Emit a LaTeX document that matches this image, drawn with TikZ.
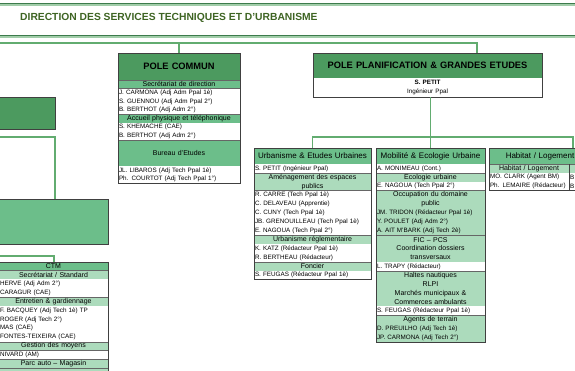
\documentclass[tikz,border=0pt]{standalone}
\usepackage{fontspec}
\setmainfont{Liberation Sans}
\usetikzlibrary{positioning}

\definecolor{poledark}{RGB}{76,154,95}
\definecolor{polemid}{RGB}{108,190,138}
\definecolor{polelight}{RGB}{172,219,188}
\definecolor{linkgreen}{RGB}{98,172,112}
\definecolor{titlegreen}{RGB}{62,100,35}

\newcommand\dirfont{\bfseries\fontsize{10.3}{12}\selectfont}
\newcommand\hdrfont{\bfseries\fontsize{9.3}{11}\selectfont}
\newcommand\subfont{\fontsize{8}{8.9}\selectfont}
\newcommand\bandfont{\fontsize{7}{8.9}\selectfont}
\newcommand\rowfont{\fontsize{6.3}{8.9}\selectfont}

\begin{document}
\begin{tikzpicture}[x=1pt,y=-1pt,line join=miter]
  \tikzset{
    cellbase/.style={inner xsep=1pt,inner ysep=0pt,outer sep=0pt,minimum height=\rh},
    polehead/.style={cellbase,fill=poledark,draw=black!75,font=\hdrfont,align=center},
    subhead/.style={cellbase,fill=polemid,draw=black!75,font=\subfont,align=center},
    band/.style={cellbase,fill=polelight,draw=black!60,font=\bandfont,align=center},
    midband/.style={band,fill=polemid},
    agent/.style={cellbase,fill=white,font=\rowfont,align=left},
    lagent/.style={agent,fill=polelight},
    boxline/.style={draw=black!75,line width=0.6pt},
    link/.style={draw=linkgreen,line width=1.3pt},
  }
  \def\rh{8.9}
  \useasboundingbox (0,0) rectangle (575,371);
  \clip (0,0) rectangle (575,371);

  % titre
  \draw[draw=linkgreen!60,line width=1.6pt] (-5,5) -- (580,5) (-5,37) -- (580,37);
  \draw[draw=poledark!80!black,line width=0.8pt] (-5,3) -- (580,3) (-5,35) -- (580,35);
  \node[font=\dirfont,text=titlegreen,anchor=west,inner sep=0pt] (dir) at (20,18) {DIRECTION DES SERVICES TECHNIQUES ET D'URBANISME};

  % pole commun
  \begin{scope}[nodes={text width=120pt}]
    \def\rh{8.6}
    \node[polehead,anchor=north west,minimum height=27] (pc) at (118,53) {POLE COMMUN};
    \node[midband,below=0pt of pc] (pc1) {Secrétariat de direction};
    \node[agent,below=0pt of pc1] (pc2) {J. CARMONA (Adj Adm Ppal 1è)};
    \node[agent,below=0pt of pc2] (pc3) {S. GUENNOU (Adj Adm Ppal 2°)};
    \node[agent,below=0pt of pc3] (pc4) {B. BERTHOT (Adj Adm 2°)};
    \node[midband,below=0pt of pc4] (pc5) {Accueil physique et téléphonique};
    \node[agent,below=0pt of pc5] (pc6) {S. KHEMACHE (CAE)};
    \node[agent,below=0pt of pc6] (pc7) {B. BERTHOT (Adj Adm 2°)};
    \node[midband,below=0pt of pc7,minimum height=26] (pc8) {Bureau d'Etudes};
    \node[agent,below=0pt of pc8] (pc9) {JL. LIBAROS (Adj Tech Ppal 1è)};
    \node[agent,below=0pt of pc9] (pc10) {Ph. COURTOT (Adj Tech Ppal 1°)};
    \draw[boxline] (pc.north west) rectangle (pc10.south east);
  \end{scope}

  % pole planification
  \node[polehead,anchor=north west,minimum height=25,text width=227pt] (ppg) at (313,53) {POLE PLANIFICATION \& GRANDES ETUDES};
  \node[agent,below=0pt of ppg,minimum height=19,text width=227pt,align=center] (ppgchef) {\textbf{S. PETIT}\\Ingénieur Ppal};
  \draw[boxline] (ppg.north west) rectangle (ppgchef.south east);

  % urbanisme
  \begin{scope}[nodes={text width=115pt}]
    \node[subhead,anchor=north west,minimum height=16] (urb) at (254,148) {Urbanisme \& Etudes Urbaines};
    \node[agent,below=0pt of urb] (urb1) {S. PETIT (Ingénieur Ppal)};
    \node[band,below=0pt of urb1,minimum height=2*\rh] (urb2) {Aménagement des espaces\\publics};
    \node[agent,below=0pt of urb2] (urb3) {R. CARRE (Tech Ppal 1è)};
    \node[agent,below=0pt of urb3] (urb4) {C. DELAVEAU (Apprentie)};
    \node[agent,below=0pt of urb4] (urb5) {C. CUNY (Tech Ppal 1è)};
    \node[agent,below=0pt of urb5] (urb6) {JB. GRENOUILLEAU (Tech Ppal 1è)};
    \node[agent,below=0pt of urb6] (urb7) {E. NAGOUA (Tech Ppal 2°)};
    \node[band,below=0pt of urb7] (urb8) {Urbanisme réglementaire};
    \node[agent,below=0pt of urb8] (urb9) {K. KATZ (Rédacteur Ppal 1è)};
    \node[agent,below=0pt of urb9] (urb10) {R. BERTHEAU (Rédacteur)};
    \node[band,below=0pt of urb10] (urb11) {Foncier};
    \node[agent,below=0pt of urb11] (urb12) {S. FEUGAS (Rédacteur Ppal 1è)};
    \draw[boxline] (urb.north west) rectangle (urb12.south east);
  \end{scope}

  % mobilite
  \begin{scope}[nodes={text width=107pt}]
    \node[subhead,anchor=north west,minimum height=16] (mob) at (376,148) {Mobilité \& Ecologie Urbaine};
    \node[agent,below=0pt of mob] (mob1) {A. MONIMEAU (Cont.)};
    \node[band,below=0pt of mob1] (mob2) {Ecologie urbaine};
    \node[agent,below=0pt of mob2] (mob3) {E. NAGOUA (Tech Ppal 2°)};
    \node[band,below=0pt of mob3,minimum height=2*\rh] (mob4) {Occupation du domaine\\public};
    \node[lagent,below=0pt of mob4] (mob5) {JM. TRIDON (Rédacteur Ppal 1è)};
    \node[lagent,below=0pt of mob5] (mob6) {Y. POULET (Adj Adm 2°)};
    \node[lagent,below=0pt of mob6] (mob7) {A. AIT M'BARK (Adj Tech 2è)};
    \node[band,below=0pt of mob7,minimum height=3*\rh] (mob8) {FIC – PCS\\Coordination dossiers\\transversaux};
    \node[agent,below=0pt of mob8] (mob9) {L. TRAPY (Rédacteur)};
    \node[band,below=0pt of mob9,minimum height=4*\rh] (mob10) {Haltes nautiques\\RLPI\\Marchés municipaux \&\\Commerces ambulants};
    \node[agent,below=0pt of mob10] (mob11) {S. FEUGAS (Rédacteur Ppal 1è)};
    \node[band,below=0pt of mob11] (mob12) {Agents de terrain};
    \node[lagent,below=0pt of mob12] (mob13) {D. PREUILHO (Adj Tech 1è)};
    \node[lagent,below=0pt of mob13] (mob14) {JP. CARMONA (Adj Tech 2°)};
    \draw[boxline] (mob.north west) rectangle (mob14.south east);
  \end{scope}

  % habitat
  \node[subhead,anchor=north west,minimum height=16,text width=100pt] (hab) at (489,148) {Habitat / Logement};
  \node[band,anchor=north west,text width=78pt] (hab1) at (hab.south west) {Habitat / Logement};
  \node[agent,below=0pt of hab1,text width=78pt] (hab2) {MO. CLARK (Agent BM)};
  \node[agent,below=0pt of hab2,text width=78pt] (hab3) {Ph. LEMAIRE (Rédacteur)};
  \node[band,anchor=north west,text width=20pt] (habb1) at (hab1.north east) {};
  \node[agent,below=0pt of habb1,text width=20pt] (habb2) {B};
  \node[agent,below=0pt of habb2,text width=20pt] (habb3) {B};
  \draw[boxline] (hab.north west) rectangle (habb3.south east);
  \draw[boxline] (hab1.north east) -- (hab3.south east);

  % gauche
  \node[polehead,anchor=north west,minimum width=65,minimum height=32] (lp) at (-10,97) {};
  \node[subhead,anchor=north west,minimum width=118,minimum height=45] (ls) at (-10,199) {};

  % ctm
  \begin{scope}[nodes={text width=107pt}]
    \node[midband,anchor=north west,minimum height=8.5] (ctm) at (-1,262) {CTM};
    \node[band,below=0pt of ctm] (ctm1) {Secrétariat / Standard};
    \node[agent,below=0pt of ctm1] (ctm2) {HERVE (Adj Adm 2°)};
    \node[agent,below=0pt of ctm2] (ctm3) {CARAGUR (CAE)};
    \node[band,below=0pt of ctm3] (ctm4) {Entretien \& gardiennage};
    \node[agent,below=0pt of ctm4] (ctm5) {F. BACQUEY (Adj Tech 1è) TP};
    \node[agent,below=0pt of ctm5] (ctm6) {ROGER (Adj Tech 2°)};
    \node[agent,below=0pt of ctm6] (ctm7) {MAS (CAE)};
    \node[agent,below=0pt of ctm7] (ctm8) {FONTES-TEIXEIRA (CAE)};
    \node[band,below=0pt of ctm8] (ctm9) {Gestion des moyens};
    \node[agent,below=0pt of ctm9] (ctm10) {NIVARD (AM)};
    \node[band,below=0pt of ctm10] (ctm11) {Parc auto – Magasin};
    \node[band,below=0pt of ctm11] (ctm12) {};
    \draw[boxline] (ctm.north west) rectangle (ctm12.south east);
  \end{scope}

  % liaisons
  \coordinate (busA) at (-5,43);
  \coordinate (busB) at (0,137);
  \coordinate (leftA) at (-5,137);
  \coordinate (leftB) at (-5,256);
  \coordinate (ppgin) at ([xshift=49.5pt]ppg.north);
  \coordinate (habin) at ([xshift=84pt]hab.north west);
  \coordinate (lsin) at ([xshift=65pt]ls.north west);
  \coordinate (ctmin) at ([xshift=55pt]ctm.north west);
  \draw[link] (ppgin) |- (busA);
  \draw[link] (pc.north) -- (pc.north |- busA);
  \draw[link] (mob.north) -- (mob.north |- ppgchef.south);
  \draw[link] (urb.north) -- (urb.north |- busB) -| (habin);
  \draw[link] (lsin) |- (leftA);
  \draw[link] (ctmin) |- (leftB);
\end{tikzpicture}
\end{document}
